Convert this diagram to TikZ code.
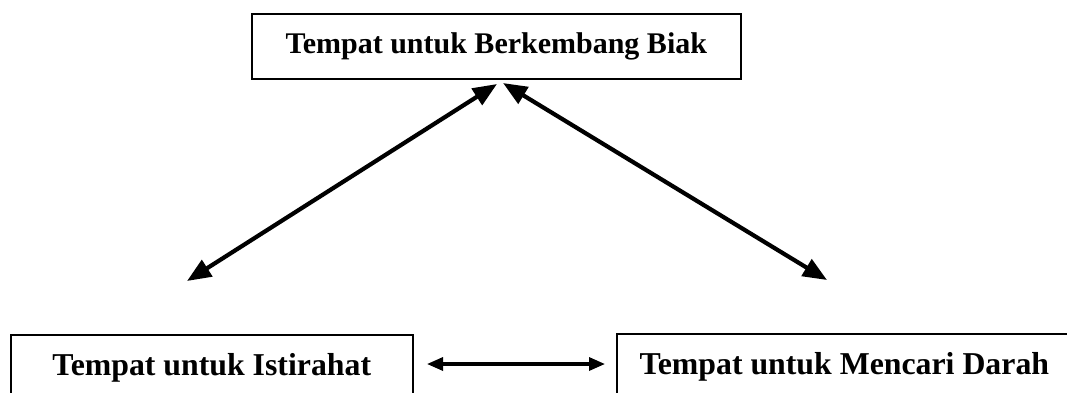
\documentclass[tikz,border=0pt]{standalone}
\usepackage{fontspec}
\setmainfont{Liberation Serif}
\usetikzlibrary{arrows.meta}
\begin{document}
\begin{tikzpicture}[x=1pt,y=-1pt,
  box/.style={draw=black,line width=1.6pt,rectangle,inner sep=0pt,anchor=north west,
    font=\bfseries\fontsize{30}{36}\selectfont},
  lowbox/.style={box,font=\bfseries\fontsize{31.8}{38}\selectfont},
  bigarrow/.style={line width=4.2pt,{Triangle[length=24pt,width=19pt]}-{Triangle[length=24pt,width=19pt]}},
  smallarrow/.style={line width=3.2pt,{Triangle[length=16pt,width=13pt]}-{Triangle[length=16pt,width=13pt]}}]
\useasboundingbox (0,0) rectangle (1067,392);
\clip (0,0) rectangle (1067,392);

% boxes
\node[box,minimum width=489pt,minimum height=65pt] (biak) at (251,13) {Tempat untuk Berkembang Biak};
\node[lowbox,minimum width=402pt,minimum height=66pt] (istirahat) at (10,334) {Tempat untuk Istirahat};
\node[lowbox,minimum width=455pt,minimum height=67pt] (darah) at (616,333) {Tempat untuk Mencari Darah};

% free ends of the connectors
\coordinate (topL) at (497,84);
\coordinate (topR) at (503,83);
\coordinate (endL) at (187,281);
\coordinate (endR) at (827,280);
\coordinate (midL) at (427,364);
\coordinate (midR) at (605,364);

% connectors
\draw[bigarrow] (topL) -- (endL);
\draw[bigarrow] (topR) -- (endR);
\draw[smallarrow] (midL) -- (midR);
\end{tikzpicture}
\end{document}
